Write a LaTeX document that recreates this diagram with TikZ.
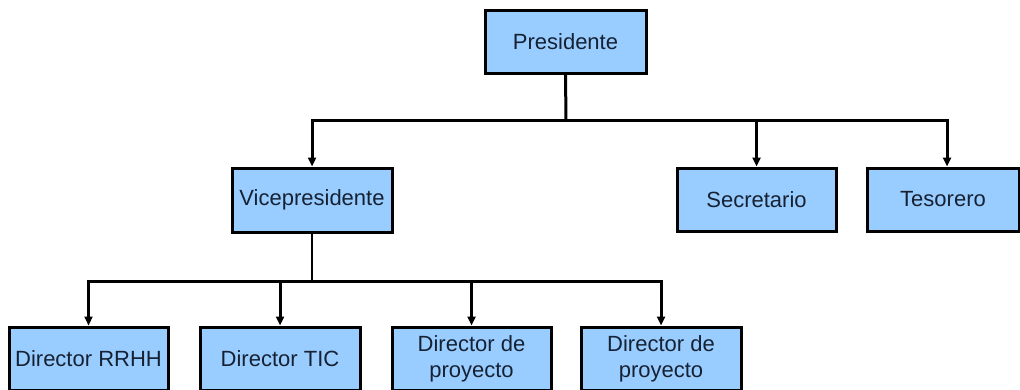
\documentclass[tikz,border=0pt]{standalone}
\usepackage{fontspec}
\setmainfont{Liberation Sans}
\usetikzlibrary{arrows.meta}
\definecolor{boxfill}{RGB}{153,204,255}
\definecolor{txt}{RGB}{22,34,52}
\tikzset{
  unit/.style={draw=black, line width=3pt, fill=boxfill, rectangle, minimum height=63pt, inner sep=0pt, align=center, text=txt, font=\fontsize{22}{26}\selectfont},
  link/.style={draw=black, line width=3pt},
  thinlink/.style={draw=black, line width=1.2pt},
  arr/.style={link, -{Triangle[width=8pt,length=9pt]}}
}
\begin{document}
\begin{tikzpicture}[x=1pt,y=-1pt]
\useasboundingbox (0,0) rectangle (1020,389);
\clip (0,0) rectangle (1020,389);
\node[unit, minimum width=161pt] (pres) at (565.5,41.5) {Presidente};
\node[unit, minimum width=160pt, minimum height=64pt] (vice) at (312,200) {Vicepresidente};
\node[unit, minimum width=159pt] (sec) at (756.5,199.5) {Secretario};
\node[unit, minimum width=152pt] (tes) at (943,199.5) {Tesorero};
\node[unit, minimum width=159pt] (rrhh) at (88.5,358.5) {Director RRHH};
\node[unit, minimum width=160pt] (tic) at (280,358.5) {Director TIC};
\node[unit, minimum width=159pt] (dp1) at (471.5,358.5) {Director de\\proyecto};
\node[unit, minimum width=160pt] (dp2) at (661,358.5) {Director de\\proyecto};
\coordinate (busA) at (566,120);
\coordinate (busB) at (312,281);
\draw[link] (pres.south) -- (busA);
\draw[arr] (busA) -| (vice.north);
\draw[arr] (busA) -| (sec.north);
\draw[arr] (busA) -| ([xshift=4pt]tes.north);
\draw[thinlink] (vice.south) -- (busB);
\draw[arr] (busB) -| (rrhh.north);
\draw[arr] (busB) -| (tic.north);
\draw[arr] (busB) -| (dp1.north);
\draw[arr] (busB) -| (dp2.north);
\end{tikzpicture}
\end{document}
